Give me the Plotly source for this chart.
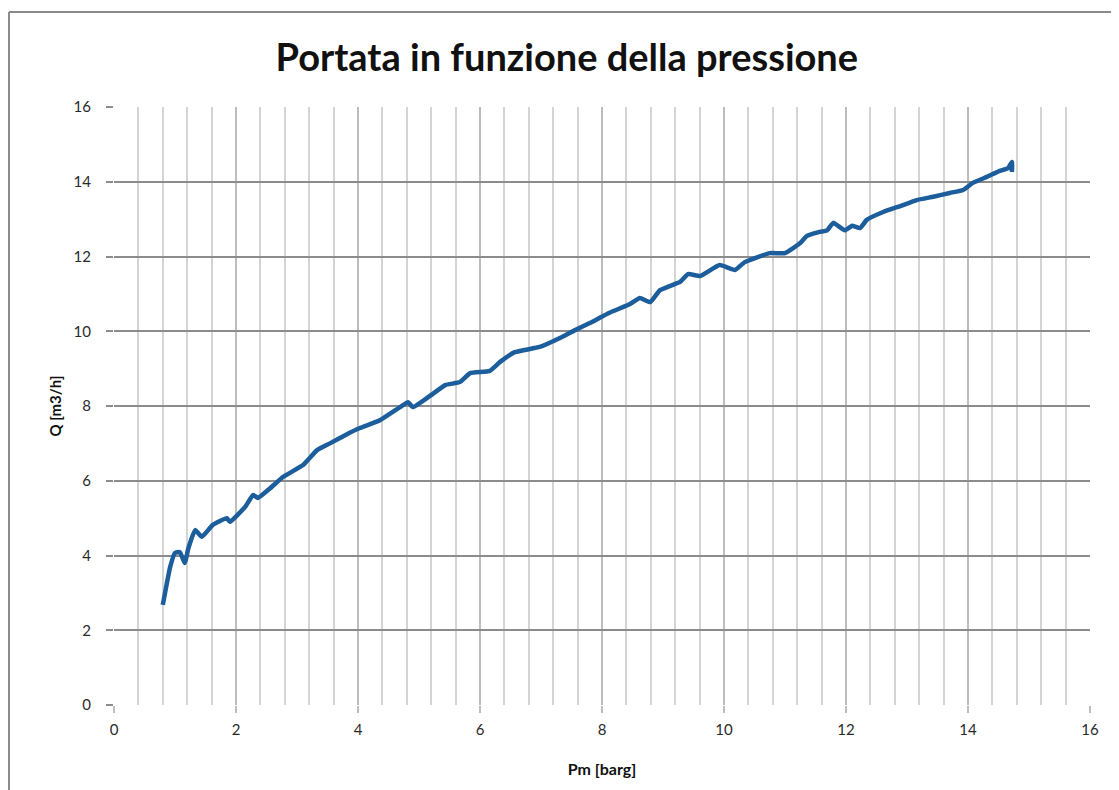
import plotly.graph_objects as go

# Data (Pm [barg] vs Q [m3/h])
pm = [0.80, 0.86, 0.92, 1.00, 1.08, 1.16, 1.22, 1.33, 1.44, 1.62, 1.85, 1.90, 2.15, 2.28, 2.36,
      2.56, 2.77, 3.10, 3.33, 3.54, 3.79, 4.03, 4.36, 4.69, 4.82, 4.90, 5.18, 5.43, 5.67, 5.84,
      6.16, 6.33, 6.57, 6.98, 7.31, 7.56, 7.80, 8.13, 8.46, 8.62, 8.79, 8.95, 9.28, 9.41, 9.61,
      9.93, 10.18, 10.34, 10.75, 11.00, 11.25, 11.36, 11.57, 11.69, 11.79, 11.98, 12.10, 12.23,
      12.34, 12.61, 12.89, 13.16, 13.43, 13.70, 13.92, 14.08, 14.31, 14.52, 14.66, 14.72, 14.72]
q = [2.68, 3.20, 3.69, 4.07, 4.09, 3.80, 4.20, 4.68, 4.50, 4.82, 5.00, 4.90, 5.30, 5.62, 5.54,
     5.80, 6.10, 6.42, 6.82, 7.00, 7.22, 7.41, 7.62, 7.97, 8.10, 7.97, 8.27, 8.56, 8.64, 8.88,
     8.94, 9.18, 9.44, 9.58, 9.82, 10.03, 10.22, 10.50, 10.73, 10.89, 10.78, 11.10, 11.32, 11.53, 11.48,
     11.77, 11.64, 11.85, 12.09, 12.09, 12.36, 12.55, 12.66, 12.70, 12.90, 12.70, 12.82, 12.76,
     12.98, 13.19, 13.35, 13.51, 13.60, 13.70, 13.78, 13.97, 14.13, 14.29, 14.37, 14.53, 14.26]

title_text = "Portata in funzione della pressione"
x_title = "Pm [barg]"
y_title = "Q [m3/h]"

fig = go.Figure()
fig.add_trace(go.Scatter(x=pm, y=q, mode="lines",
                         line=dict(color="#1c5d9c", width=4.5, shape="spline", smoothing=0.4),
                         showlegend=False, hoverinfo="x+y"))

fig.update_layout(
    width=1111, height=782,
    margin=dict(l=106, r=29, t=99, b=85),
    paper_bgcolor="white", plot_bgcolor="white",
    title=dict(text=title_text, x=0.503, xref="container", xanchor="center",
               y=0.937, yref="container", yanchor="middle",
               font=dict(family="Lato", size=38, color="#111111", weight="bold")),
    font=dict(family="Lato", color="#333333"),
    shapes=[
        dict(type="line", xref="paper", yref="paper", x0=-0.1076, x1=1.05, y0=1.1589, y1=1.1589,
             line=dict(color="#8a8a8a", width=2)),
        dict(type="line", xref="paper", yref="paper", x0=-0.1076, x1=-0.1076, y0=-0.2, y1=1.1589,
             line=dict(color="#8a8a8a", width=2)),
    ],
)

fig.update_xaxes(range=[0, 16], dtick=2, tick0=0,
                 showgrid=True, gridcolor="#bdbdbd", gridwidth=2,
                 minor=dict(dtick=0.4, tick0=0, showgrid=True, gridcolor="#d4d4d4", gridwidth=2),
                 ticks="outside", ticklen=7, tickcolor="#bdbdbd", tickwidth=2,
                 ticklabelstandoff=4,
                 showline=False, zeroline=False,
                 tickfont=dict(family="Lato", size=15, color="#2a2a2a"),
                 title=dict(text=x_title, standoff=26,
                            font=dict(family="Lato", size=16, color="#111111", weight="bold")))
fig.update_yaxes(range=[0, 16], dtick=2, tick0=0,
                 showgrid=True, gridcolor="#8c8c8c", gridwidth=2,
                 ticks="outside", ticklen=7, tickcolor="#8c8c8c", tickwidth=2,
                 ticklabelstandoff=12,
                 showline=False, zeroline=False,
                 tickfont=dict(family="Lato", size=15, color="#2a2a2a"),
                 title=dict(text=y_title, standoff=8,
                            font=dict(family="Lato", size=15, color="#111111", weight="bold")))

fig.write_html("out.html")
